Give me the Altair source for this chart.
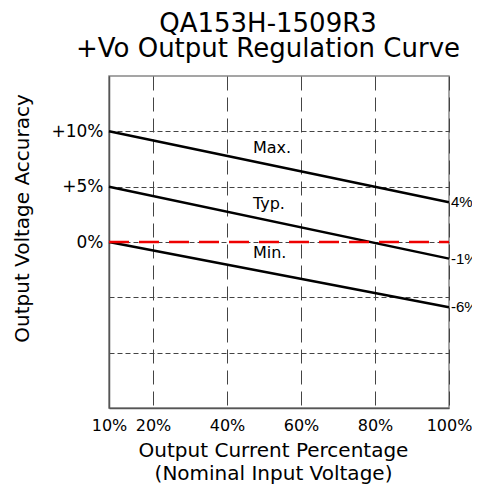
import altair as alt
import pandas as pd

# ---- data ----
load_pct = [10, 100]
max_vals = [10, 3.6]
typ_vals = [5, -1.5]
min_vals = [0, -5.9]
nominal_vals = [0, 0]

series_names = ["Max.", "Typ.", "Min."]
series_label_x = [47, 47, 47]
series_label_y = [8.5, 3.4, -1.0]

end_labels = ["4%", "-1%", "-6%"]

x_ticks = [10, 20, 40, 60, 80, 100]
y_ticks = [-10, -5, 0, 5, 10]

FONT = "DejaVu Sans"

rows = []
for name, vals in zip(series_names, [max_vals, typ_vals, min_vals]):
    for x, y in zip(load_pct, vals):
        rows.append({"series": name, "load": x, "acc": y})
lines_df = pd.DataFrame(rows)

nominal_df = pd.DataFrame({"load": load_pct, "acc": nominal_vals})

inner_df = pd.DataFrame({"label": series_names, "load": series_label_x, "acc": series_label_y})

end_df = pd.DataFrame({
    "label": end_labels,
    "load": [load_pct[-1]] * 3,
    "acc": [max_vals[-1], typ_vals[-1], min_vals[-1]],
})

W, H = 340, 332

xscale = alt.Scale(domain=[10, 20, 100], range=[0, 44, W], zero=False, nice=False)
yscale = alt.Scale(domain=[-15, 15], zero=False, nice=False)

xaxis = alt.Axis(
    values=x_ticks,
    labelExpr="datum.value + '%'",
    title=["Output Current Percentage", "(Nominal Input Voltage)"],
    grid=True, gridDash=[14, 7], gridColor="#444", gridWidth=1,
    ticks=False, domainColor="#555", domainWidth=1.5,
    labelFont=FONT, labelFontSize=16, labelColor="black", labelPadding=9,
    labelFlush=False, labelOverlap=False, labelBound=False,
    titleFont=FONT, titleFontSize=20, titleFontWeight="normal", titleColor="black",
    titleLineHeight=23, titleX=164, titleY=48, titleAlign="center",
    titleBaseline="alphabetic",
)

yaxis = alt.Axis(
    values=y_ticks,
    labelExpr="datum.value > 0 ? '+' + datum.value + '%' : (datum.value == 0 ? '0%' : '')",
    title="Output Voltage Accuracy",
    grid=True, gridDash=[5, 3], gridColor="#444", gridWidth=1,
    ticks=False, domainColor="#555", domainWidth=1.5,
    labelFont=FONT, labelFontSize=17, labelColor="black", labelPadding=6,
    labelFlush=False, labelOverlap=False, labelBound=False,
    titleFont=FONT, titleFontSize=20, titleFontWeight="normal", titleColor="black",
    titleAngle=-90, titleX=-81, titleY=142, titleAlign="center",
    titleBaseline="alphabetic",
)

base_x = alt.X("load:Q", scale=xscale, axis=xaxis)
base_y = alt.Y("acc:Q", scale=yscale, axis=yaxis)

lines = alt.Chart(lines_df).mark_line(color="black", strokeWidth=2.5).encode(
    x=base_x, y=base_y, detail="series:N"
)

nominal = alt.Chart(nominal_df).mark_line(
    color="#ee0000", strokeWidth=2.5, strokeDash=[20, 10]
).encode(x="load:Q", y="acc:Q")

inner = alt.Chart(inner_df).mark_text(
    font=FONT, fontSize=16, align="left", baseline="middle", color="black"
).encode(x="load:Q", y="acc:Q", text="label:N")

ends = alt.Chart(end_df).mark_text(
    font="Liberation Sans", fontSize=15, align="left", baseline="middle", dx=2, color="black"
).encode(x="load:Q", y="acc:Q", text="label:N")

chart = alt.layer(lines, nominal, inner, ends).properties(
    width=W, height=H,
    title=alt.TitleParams(
        text=["QA153H-1509R3", "+Vo Output Regulation Curve"],
        font=FONT, fontSize=26, fontWeight="normal", color="black",
        lineHeight=25, anchor="middle", dx=-11, offset=14,
    ),
    autosize=alt.AutoSizeParams(type="none"),
    padding={"left": 101, "top": 68, "right": 23, "bottom": 76},
).configure_view(stroke="#888", strokeWidth=1.5)

chart.save("out.html", embed_options={"renderer": "svg", "actions": False})
